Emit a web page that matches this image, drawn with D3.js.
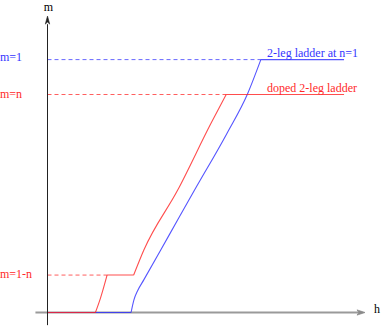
<!DOCTYPE html>
<html>
<head>
<meta charset="utf-8">
<script src="https://cdn.jsdelivr.net/npm/d3@7"></script>
<style>
  body { margin: 0; background: #fff; }
  svg { display: block; }
</style>
</head>
<body>
<div id="chart"></div>
<script>
// magnetization levels on the m axis
const levelLabels = ['m=1', 'm=n', 'm=1-n'];
const levelValues = [1, 0.862, 0.148];
const levelColors = ['#3535ff', '#ff2a2a', '#ff2a2a'];

// 2-leg ladder at n=1 (blue)
const bluePoints = [
  [0, 0], [2.632, 0], [2.72, 0.049], [2.846, 0.088], [3.028, 0.128],
  [3.83, 0.306], [4.632, 0.484], [5.651, 0.708], [6.299, 0.864],
  [6.72, 1.0], [9.34, 1.0]
];

// doped 2-leg ladder (red)
const redPoints = [
  [0, 0], [1.509, 0], [1.669, 0.057], [1.877, 0.148],
  [2.714, 0.148], [3.035, 0.247], [4.101, 0.484],
  [5.15, 0.748], [5.629, 0.862], [9.34, 0.862]
];

// where the dashed guide of each level meets its curve
const levelEnds = [6.72, 5.629, 1.877];

const seriesNames = ['2-leg ladder at n=1', 'doped 2-leg ladder'];

// cut a curve into plateaus and rising parts, so corners stay sharp
function splitRuns(points) {
  const runs = [];
  let run = [points[0]];
  let flat = null;
  for (let i = 1; i < points.length; i++) {
    const f = points[i][1] === points[i - 1][1];
    if (flat !== null && f !== flat) {
      runs.push(run);
      run = [points[i - 1]];
    }
    run.push(points[i]);
    flat = f;
  }
  runs.push(run);
  return runs;
}

(function() {
  const width = 382;
  const height = 327;
  const serif = 'Liberation Serif, Times New Roman, Times, serif';

  const svg = d3.select('#chart').append('svg')
      .attr('width', width)
      .attr('height', height)
      .attr('font-family', serif)
      .attr('font-size', 12);

  const x = d3.scaleLinear().domain([0, 10]).range([47.5, 365]);
  const y = d3.scaleLinear().domain([0, 1]).range([312.5, 59.6]);

  // h axis (grey)
  svg.append('line')
      .attr('x1', x(-0.38)).attr('x2', x(9.9))
      .attr('y1', y(0)).attr('y2', y(0))
      .attr('stroke', '#9a9a9a')
      .attr('stroke-width', 1.8);
  svg.append('path')
      .attr('d', `M${x(10)},${y(0)} L${x(10) - 8},${y(0) - 2.6} L${x(10) - 6},${y(0)} L${x(10) - 8},${y(0) + 2.6} Z`)
      .attr('fill', '#8a8a8a')
      .attr('stroke', '#8a8a8a')
      .attr('stroke-width', 0.8);
  svg.append('text')
      .text('h')
      .attr('x', 374)
      .attr('y', 313);

  // dashed guides
  svg.selectAll('.guide')
      .data(levelValues)
      .enter()
      .append('line')
      .attr('class', 'guide')
      .attr('x1', x(0))
      .attr('x2', (d, i) => x(levelEnds[i]))
      .attr('y1', d => y(d))
      .attr('y2', d => y(d))
      .attr('stroke', (d, i) => levelColors[i])
      .attr('stroke-opacity', 0.75)
      .attr('stroke-width', 1)
      .attr('stroke-dasharray', '4,3');

  svg.selectAll('.level-label')
      .data(levelLabels)
      .enter()
      .append('text')
      .attr('class', 'level-label')
      .text(d => d)
      .attr('x', 0)
      .attr('y', (d, i) => y(levelValues[i]))
      .attr('dy', (d, i) => [1, 3.5, 2.5][i])
      .attr('fill', (d, i) => levelColors[i]);

  // curves
  const line = d3.line()
      .x(d => x(d[0]))
      .y(d => y(d[1]))
      .curve(d3.curveMonotoneX);

  const curvePath = points => splitRuns(points).map(r => line(r)).join(' ');

  svg.append('path')
      .attr('d', curvePath(bluePoints))
      .attr('fill', 'none')
      .attr('stroke', '#2a2aff')
      .attr('stroke-opacity', 0.8)
      .attr('stroke-width', 1.1);

  svg.append('path')
      .attr('d', curvePath(redPoints))
      .attr('fill', 'none')
      .attr('stroke', '#ff2020')
      .attr('stroke-opacity', 0.8)
      .attr('stroke-width', 1.1);

  // series labels
  svg.append('text')
      .text(seriesNames[0])
      .attr('x', 267)
      .attr('y', y(1) - 3)
      .attr('fill', '#3535ff');
  svg.append('text')
      .text(seriesNames[1])
      .attr('x', 267)
      .attr('y', y(0.862) - 3)
      .attr('fill', '#ff2a2a');

  // m axis (black)
  svg.append('line')
      .attr('x1', x(0)).attr('x2', x(0))
      .attr('y1', y(1.14)).attr('y2', y(-0.05))
      .attr('stroke', '#222')
      .attr('stroke-width', 1);
  svg.append('path')
      .attr('d', `M${x(0)},${y(1.172)} L${x(0) - 2.2},${y(1.172) + 8} L${x(0)},${y(1.172) + 6} L${x(0) + 2.2},${y(1.172) + 8} Z`)
      .attr('fill', '#222')
      .attr('stroke', '#222')
      .attr('stroke-width', 0.6);
  svg.append('text')
      .text('m')
      .attr('x', x(0) + 1)
      .attr('y', 11)
      .style('text-anchor', 'middle');
})();
</script>
</body>
</html>
